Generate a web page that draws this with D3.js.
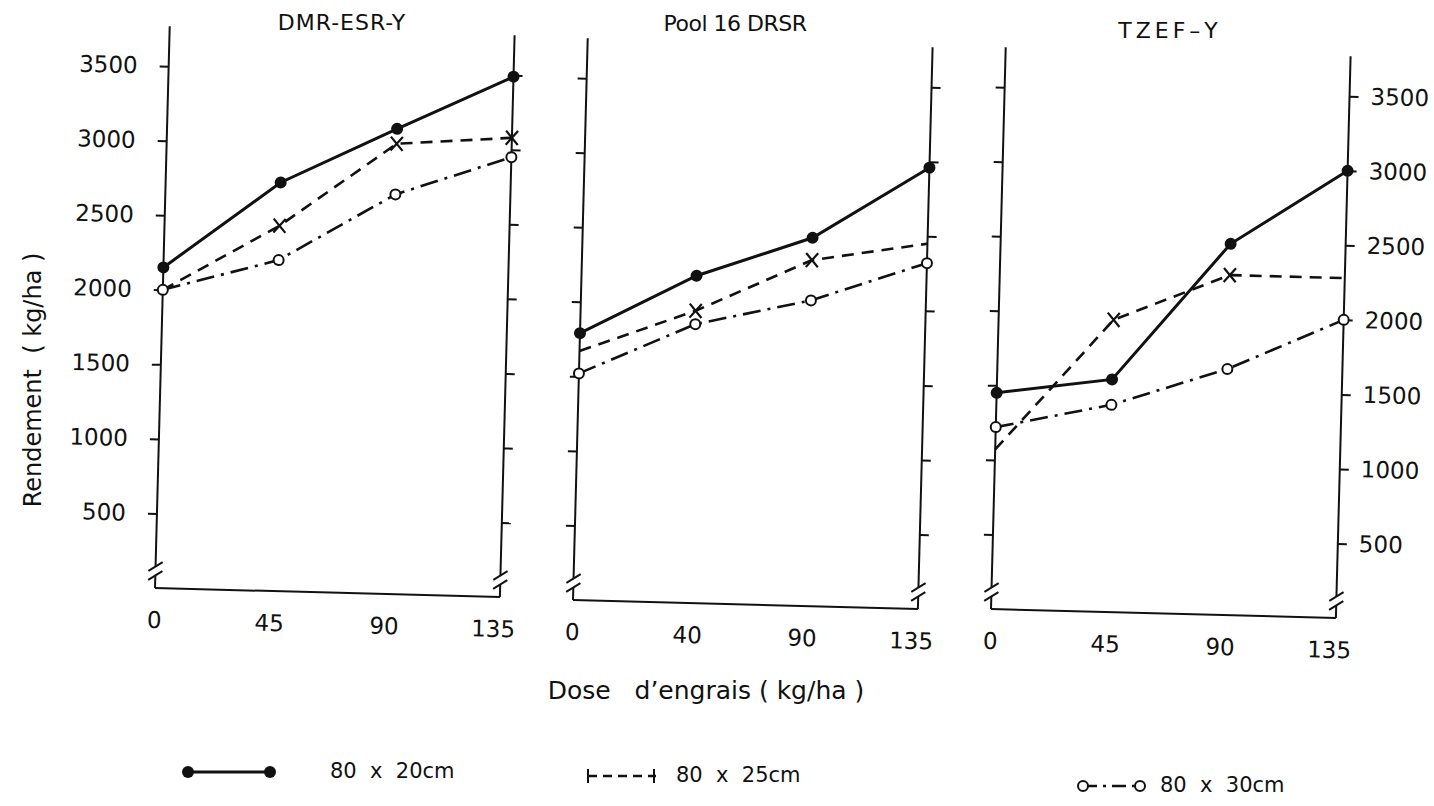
<!DOCTYPE html>
<html>
<head>
<meta charset="utf-8">
<script src="https://cdn.jsdelivr.net/npm/d3@7"></script>
<style>
body { margin:0; background:#fff; }
svg text { font-family:"DejaVu Sans", sans-serif; fill:#111; }
</style>
</head>
<body>
<svg id="chart" width="1434" height="806"></svg>
<script>

// varieties (one panel each)
var varieties = ["DMR-ESR-Y", "Pool 16 DRSR", "TZEF-Y"];
// dose labels as written under each panel
var doseLabels = [["0","45","90","135"], ["0","40","90","135"], ["0","45","90","135"]];
var yTicks = [500, 1000, 1500, 2000, 2500, 3000, 3500];

// rendement kg/ha, one row per panel
var spacing20 = [[2150, 2740, 3120, 3490], [1790, 2195, 2470, 2960], [1450, 1560, 2490, 3000]];
var spacing25 = [[2000, 2450, 3020, 3080], [1670, 1960, 2320, 2450], [1070, 1960, 2280, 2280]];
var spacing30 = [[2000, 2220, 2680, 2950], [1520, 1870, 2050, 2320], [1220, 1390, 1650, 2000]];
var seriesNames = ["80 x 20cm", "80 x 25cm", "80 x 30cm"];

var svg = d3.select("#chart");

var origins = [[155,588], [573,600], [991,609]];
var pw = 345, ph = 562, tilt = 1.5;

var y = d3.scaleLinear().domain([0, 3500]).range([0, -522]);

var dashes = ["none", "12,8", "18,7,3,7"];
var allSeries = [spacing20, spacing25, spacing30];

function crossMark(g, cx, cy) {
  g.append("path")
    .attr("d", "M"+(cx-6)+","+(cy-7)+"L"+(cx+6)+","+(cy+7)+"M"+(cx+6)+","+(cy-7)+"L"+(cx-6)+","+(cy+7))
    .attr("stroke","#111").attr("stroke-width",2.2).attr("fill","none");
}

function vAxis(g, x) {
  // axis with a break near the bottom
  g.append("line").attr("x1",x).attr("x2",x).attr("y1",0).attr("y2",-12)
    .attr("stroke","#111").attr("stroke-width",2);
  g.append("line").attr("x1",x).attr("x2",x).attr("y1",-22).attr("y2",-ph)
    .attr("stroke","#111").attr("stroke-width",2);
  [-12, -21].forEach(function(v) {
    g.append("line").attr("x1",x-7).attr("x2",x+7).attr("y1",v+4).attr("y2",v-5)
      .attr("stroke","#111").attr("stroke-width",2);
  });
}

varieties.forEach(function(name, p) {
  var o = origins[p];
  var g = svg.append("g").attr("transform","translate("+o[0]+","+o[1]+") rotate("+tilt+")");
  var x = d3.scalePoint().domain(doseLabels[p]).range([0, pw]);

  // bottom axis
  g.append("line").attr("x1",0).attr("x2",pw).attr("y1",0).attr("y2",0)
    .attr("stroke","#111").attr("stroke-width",2);
  vAxis(g, 0);
  vAxis(g, pw);

  var left = d3.axisLeft(y).tickValues(yTicks).tickSize(9).tickSizeOuter(0).tickPadding(22)
    .tickFormat(d3.format("d"));
  var right = d3.axisRight(y).tickValues(yTicks).tickSize(9).tickSizeOuter(0).tickPadding(12)
    .tickFormat(d3.format("d"));
  if (p != 0) left.tickFormat("");
  if (p != 2) right.tickFormat("");
  var la = g.append("g").call(left);
  var ra = g.append("g").attr("transform","translate("+pw+",0)").call(right);
  [la, ra].forEach(function(a) {
    a.select(".domain").remove();
    a.selectAll("line").attr("stroke","#111").attr("stroke-width",2);
    a.selectAll("text").attr("font-size",23).attr("fill","#111")
      .attr("font-family","DejaVu Sans");
  });

  // dose labels
  g.selectAll(".dose").data(doseLabels[p]).enter().append("text")
    .attr("x", function(d){ return x(d) - (d=="135" ? 6 : 0); })
    .attr("y", 40)
    .attr("text-anchor","middle")
    .attr("font-size",23)
    .text(function(d){ return d; });

  allSeries.forEach(function(s, k) {
    var pts = s[p].map(function(v, i){ return [x(doseLabels[p][i]), y(v)]; });
    g.append("path").attr("d", d3.line()(pts))
      .attr("fill","none").attr("stroke","#111")
      .attr("stroke-width", k==0 ? 3 : 2.6)
      .attr("stroke-dasharray", dashes[k]);
    if (k == 0) {
      g.selectAll(".dot"+p).data(pts).enter().append("circle")
        .attr("cx",function(d){return d[0];}).attr("cy",function(d){return d[1];})
        .attr("r",6).attr("fill","#111");
    } else if (k == 2) {
      g.selectAll(".ring"+p).data(pts).enter().append("circle")
        .attr("cx",function(d){return d[0];}).attr("cy",function(d){return d[1];})
        .attr("r",5).attr("fill","#fff").attr("stroke","#111").attr("stroke-width",2);
    } else {
      pts.forEach(function(d, i) {
        if (i == 1 || i == 2 || (p == 0 && i == 3)) crossMark(g, d[0], d[1]);
      });
    }
  });
});

// panel titles
var titlePos = [[342,30], [735,31], [1170,38]];
varieties.forEach(function(name, p) {
  svg.append("text").attr("x",titlePos[p][0]).attr("y",titlePos[p][1])
    .attr("text-anchor","middle").attr("font-size",22)
    .attr("letter-spacing", p==1 ? -0.5 : (p==0 ? 1 : 4))
    .text(name.replace(/-/g, p==2 ? "\u2013" : "-"));
});

// axis titles
svg.append("text").attr("transform","translate(41,380) rotate(-90)")
  .attr("text-anchor","middle").attr("font-size",24)
  .attr("xml:space","preserve").text("Rendement  ( kg/ha )");
svg.append("text").attr("x",706).attr("y",699)
  .attr("text-anchor","middle").attr("font-size",25)
  .attr("xml:space","preserve").text("Dose   d\u2019engrais ( kg/ha )");

// legend
var legendX = [[188,270,330,778], [588,656,676,782], [1083,1140,1160,792]];
seriesNames.forEach(function(n, k) {
  var L = legendX[k];
  svg.append("line").attr("x1",L[0]).attr("x2",L[1]).attr("y1",L[3]-6).attr("y2",L[3]-6)
    .attr("stroke","#111").attr("stroke-width",k==0?3:2.4)
    .attr("stroke-dasharray", k==1 ? "9,6" : (k==2 ? "14,6,3,6" : "none"));
  if (k == 0) {
    [L[0],L[1]].forEach(function(cx){
      svg.append("circle").attr("cx",cx).attr("cy",L[3]-6).attr("r",6).attr("fill","#111");
    });
  } else if (k == 1) {
    svg.append("line").attr("x1",L[0]).attr("x2",L[0]).attr("y1",L[3]-13).attr("y2",L[3]+1)
      .attr("stroke","#111").attr("stroke-width",2);
    svg.append("line").attr("x1",L[1]-2).attr("x2",L[1]-2).attr("y1",L[3]-13).attr("y2",L[3]+1)
      .attr("stroke","#111").attr("stroke-width",2);
  } else {
    [L[0],L[1]].forEach(function(cx){
      svg.append("circle").attr("cx",cx).attr("cy",L[3]-6).attr("r",5)
        .attr("fill","#fff").attr("stroke","#111").attr("stroke-width",2);
    });
  }
  svg.append("text").attr("x",L[2]).attr("y",L[3]).attr("font-size",21)
    .attr("xml:space","preserve")
    .text(n.replace(" x ", "  x  "));
});

</script>
</body>
</html>
